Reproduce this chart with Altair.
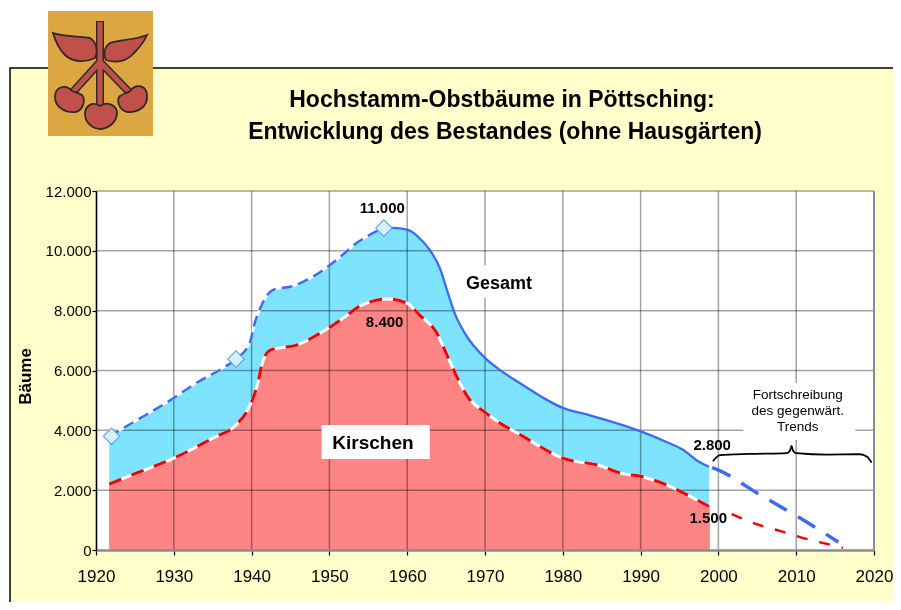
import altair as alt
import pandas as pd

FONT = "Liberation Sans"
total_x = [1921.7,1925,1930,1933,1936.3,1938,1939.8,1940.4,1941.3,1942,1943,1945,1946.6,1949.2,1951.4,1953.5,1955.9,1957]
total_y = [3800,4300,5080,5600,6080,6380,6950,7580,8190,8520,8720,8800,8960,9360,9800,10260,10630,10760]
total2_x = [1957,1958.2,1960.1,1961.6,1962.9,1964.2,1965.2,1966.1,1967.4,1970,1971.9,1974.9,1978,1980,1983.5,1987.4,1990.2,1993.4,1995.5,1997.2,1998.8]
total2_y = [10760,10770,10700,10420,10030,9420,8620,7920,7250,6420,6020,5510,5010,4750,4500,4200,3950,3600,3340,3000,2780]
trend_total_x = [1999.2,2000,2005,2012,2015.4]
trend_total_y = [2750,2670,1900,830,270]
cherry_x = [1921.7,1925,1930,1935,1938,1939.5,1940.2,1940.9,1941.3,1942.4,1943.6,1945.8,1948.8,1950.5,1952.3,1953.5,1955.6,1957.6,1959.9,1961.6,1963.8,1965,1966.4,1967.8,1970,1975,1980,1985,1987.4,1990.2,1993.4,1996,1998.9]
cherry_y = [2200,2550,3070,3740,4180,4680,5080,5680,6180,6680,6750,6850,7250,7520,7850,8090,8320,8390,8260,7850,7250,6580,5780,5110,4600,3780,3070,2800,2570,2450,2170,1840,1440]
trend_cherry_x = [2001.7,2005.3,2007.9,2010.9,2013.5,2016]
trend_cherry_y = [1200,830,640,400,230,70]
brace_x = [1999.3,1999.7,2000.2,2004,2008.8,2009.2,2009.4,2009.6,2010,2014,2018.2,2019.1,2019.7]
brace_y = [2970,3090,3170,3210,3240,3320,3480,3320,3240,3190,3200,3120,2920]
marker_x = [1922,1938,1957]
marker_y = [3800,6380,10760]
grid_x = [1930,1940,1950,1960,1970,1980,1990,2000,2010,2020]
grid_y = [2000,4000,6000,8000,10000,12000]

labels = [
    ("11.000",1956.8,11430,15,"bold"),("8.400",1957.1,7620,15,"bold"),
    ("2.800",1999.2,3510,15,"bold"),("1.500",1998.7,1070,15,"bold"),
    ("Gesamt",1971.8,8900,18,"bold"),("Kirschen",1955.6,3570,19,"bold"),
    ("Fortschreibung",2010.2,5180,13.5,"normal"),("des gegenwärt.",2010.2,4650,13.5,"normal"),("Trends",2010.2,4110,13.5,"normal"),
]
white_boxes = pd.DataFrame({
    "x":[1966.8,1949.0,2003.2],"x2":[1977.1,1962.9,2017.6],
    "y":[8430,3040,3680],"y2":[9520,4180,5580],
})

LOGO_PATH = ("M-47,-40 C-35,-36 -20,-37 -10,-35 C-3,-31 -2,-21 -5,-15 C-15,-10 -28,-11 -35,-18 C-42,-25 -45,-33 -47,-40Z "
 "M47,-38 C35,-33 18,-33 10,-30 C4,-26 3,-18 6,-13 C18,-9 28,-13 34,-20 C40,-26 44,-31 47,-38Z "
 "M-28,18 C-34,11 -45,13 -45,24 C-45,35 -34,40 -24,39 C-17,37 -14,27 -18,22 C-21,20 -25,19 -28,18Z "
 "M30,18 C36,10 47,12 47,23 C48,34 37,40 27,39 C19,37 16,27 20,23 C23,21 27,20 30,18Z "
 "M0,33 C-8,28 -15,33 -15,41 C-15,50 -7,56 1,56 C9,55 17,49 17,40 C17,32 7,28 0,33Z")

OX, OY = 96, 191
W, H = 778, 359
one = pd.DataFrame({"a":[0]})
xs = alt.Scale(domain=[1920,2020], nice=False, zero=False)
ys = alt.Scale(domain=[0,12000], nice=False)
xax = alt.Axis(values=[1920]+grid_x, format="d", title=None, grid=False, zindex=1, labelFont=FONT, labelFontSize=17,
               labelColor="#000", labelPadding=13, tickColor="#000", tickSize=5, tickWidth=1.2, domainColor="#8c8c8c", domainWidth=2.5, labelFlush=False, labelOverlap=False)
yax = alt.Axis(values=[0]+grid_y, title="Bäume", grid=False, zindex=1, labelFont=FONT, labelFontSize=15, labelColor="#000",
               labelPadding=1, tickColor="#000", tickSize=4, tickWidth=1.2, domainColor="#000", domainWidth=1.6,
               labelExpr="replace(format(datum.value, ','), ',', '.')", titleFont=FONT, titleFontSize=17, titleFontWeight="bold",
               titleColor="#000", titleX=-62, titleY=185, labelOverlap=False)
X = alt.X("x:Q", scale=xs, axis=xax)
Y = alt.Y("y:Q", scale=ys, axis=yax)

def line_df(a, b):
    return pd.DataFrame({"x":a,"y":b})
def px_rect(x0,y0,x1,y1,**kw):
    return alt.Chart(one).mark_rect(**kw).encode(x=alt.value(x0-OX),x2=alt.value(x1-OX),y=alt.value(y0-OY),y2=alt.value(y1-OY))
def px_rule(x0,y0,x1,y1,**kw):
    return alt.Chart(one).mark_rule(**kw).encode(x=alt.value(x0-OX),x2=alt.value(x1-OX),y=alt.value(y0-OY),y2=alt.value(y1-OY))
def px_text(s,x,y,**kw):
    return alt.Chart(pd.DataFrame({"t":[s]})).mark_text(font=FONT,align="center",baseline="middle",color="#000",**kw).encode(
        x=alt.value(x-OX),y=alt.value(y-OY),text="t:N")
def line(a,b,**kw):
    return alt.Chart(line_df(a,b)).mark_line(interpolate="monotone",**kw).encode(x=X,y=Y)

all_total_x = total_x + total2_x[1:]
all_total_y = total_y + total2_y[1:]

layers = [
    px_rect(10,68,920,630,fill="#ffffcc",stroke="#000",strokeWidth=1.5),
    px_rect(OX,OY,OX+W,OY+H,fill="#ffffff"),
    alt.Chart(line_df(all_total_x,all_total_y)).mark_area(interpolate="monotone",color="#7ee3ff").encode(x=X,y=Y),
    alt.Chart(line_df(cherry_x,cherry_y)).mark_area(interpolate="monotone",color="#ff8484").encode(x=X,y=Y),
    alt.Chart(pd.DataFrame({"x":grid_x})).mark_rule(color="#a3a3a3",strokeWidth=1.5,blend="multiply").encode(x=X,y=alt.value(0),y2=alt.value(H)),
    alt.Chart(pd.DataFrame({"y":grid_y})).mark_rule(color="#a3a3a3",strokeWidth=1.5,blend="multiply").encode(y=Y,x=alt.value(0),x2=alt.value(W)),
    alt.Chart(white_boxes).mark_rect(fill="#ffffff").encode(x=X,x2="x2:Q",y=Y,y2="y2:Q"),
    line(total_x,total_y,color="#ffffff",strokeWidth=2.5),
    line(total_x,total_y,color="#3b6cf0",strokeWidth=2.5,strokeDash=[11,6]),
    line(total2_x,total2_y,color="#3b6cf0",strokeWidth=2.3),
    line(trend_total_x,trend_total_y,color="#3b6cf0",strokeWidth=3.5,strokeDash=[20,13]),
    line(cherry_x,cherry_y,color="#ffffff",strokeWidth=3),
    line(cherry_x,cherry_y,color="#f00000",strokeWidth=3,strokeDash=[13,11]),
    line(trend_cherry_x,trend_cherry_y,color="#f00000",strokeWidth=2.4,strokeDash=[11,12]),
    line(brace_x,brace_y,color="#000000",strokeWidth=1.8),
    alt.Chart(line_df(marker_x,marker_y)).mark_point(shape="diamond",filled=True,size=270,opacity=1,fill="#d3f2ff",stroke="#6aa0f0",strokeWidth=1.2).encode(x=X,y=Y),
]
for t,lx,ly,s,w in labels:
    layers.append(alt.Chart(pd.DataFrame({"t":[t],"x":[lx],"y":[ly]})).mark_text(font=FONT,align="center",baseline="middle",color="#000",fontSize=s,fontWeight=w).encode(x=X,y=Y,text="t:N"))
layers += [
    px_text("Hochstamm-Obstbäume in Pöttsching:",502,100,fontSize=23,fontWeight="bold"),
    px_text("Entwicklung des Bestandes (ohne Hausgärten)",505,132,fontSize=23,fontWeight="bold"),
    px_rect(48,11,153,136,fill="#dca642"),
    px_rule(100,21,100,105,color="#2e2a2a",strokeWidth=8),
    px_rule(100,62,72,93,color="#2e2a2a",strokeWidth=8),
    px_rule(100,62,130,93,color="#2e2a2a",strokeWidth=8),
    px_rule(100,22,100,105,color="#c0504a",strokeWidth=5),
    px_rule(100,62,72,93,color="#c0504a",strokeWidth=5),
    px_rule(100,62,130,93,color="#c0504a",strokeWidth=5),
    alt.Chart(one).mark_point(shape=LOGO_PATH,size=4,filled=True,opacity=1,fill="#c0504a",stroke="#2e2a2a",strokeWidth=1.8).encode(x=alt.value(100-OX),y=alt.value(73-OY)),
    px_rule(OX+W,OY,OX+W,OY+H,color="#8c8c8c",strokeWidth=2),
]

chart = alt.layer(*layers).properties(
    width=W,height=H,
    padding={"left":OX-8,"top":OY-8,"right":885-(OX-8)-W,"bottom":594-(OY-8)-H},
    autosize=alt.AutoSizeParams(type="none"),
    background="#ffffff",
).configure_view(stroke=None)
chart.save("out.html", embed_options={"renderer":"svg","actions":False})
